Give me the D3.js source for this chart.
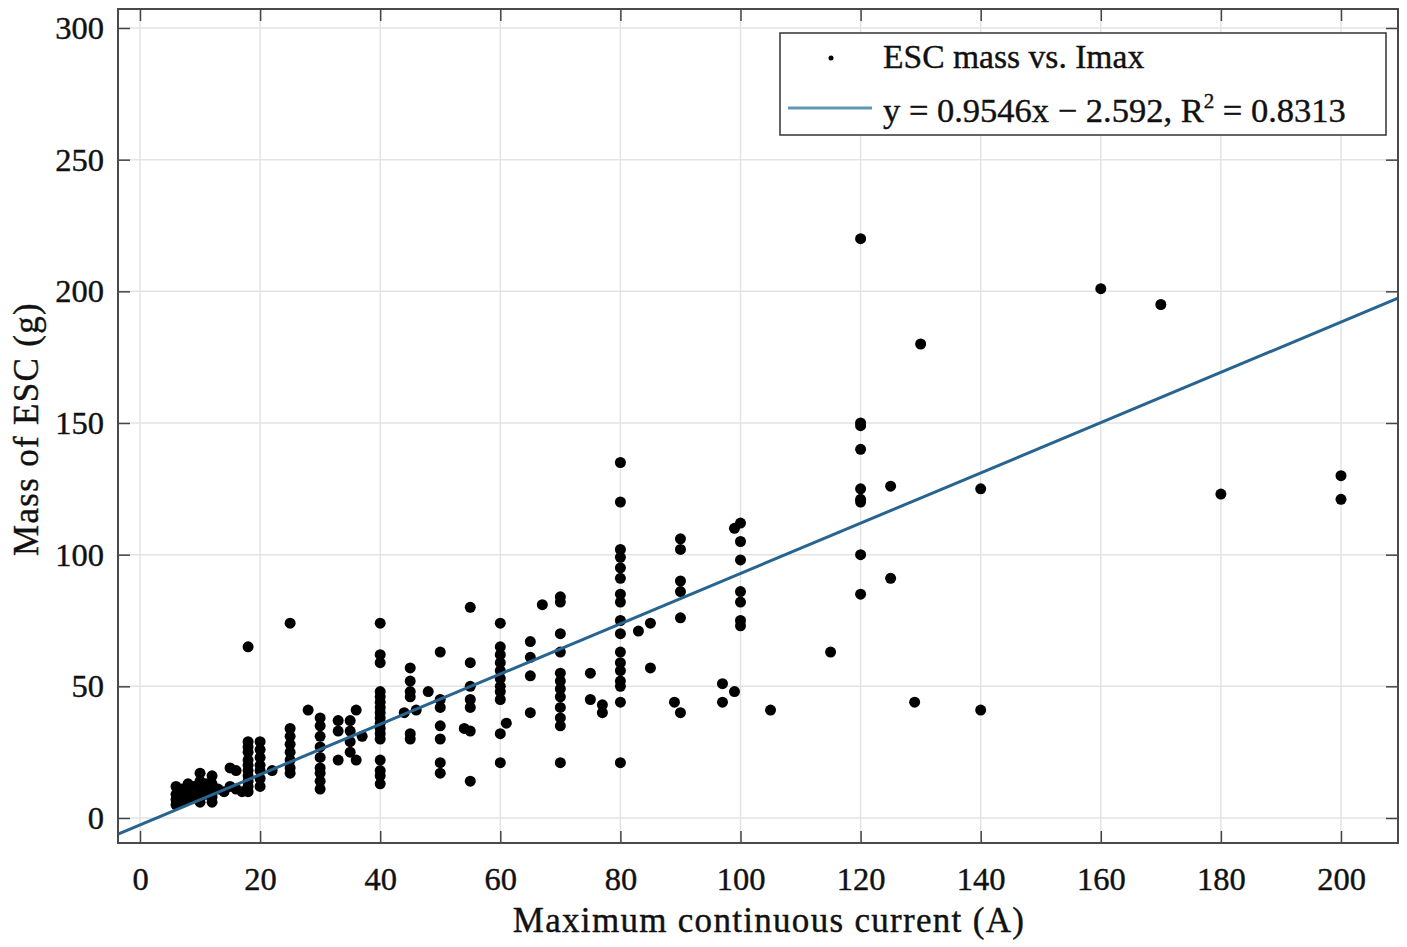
<!DOCTYPE html>
<html>
<head>
<meta charset="utf-8">
<script src="https://cdn.jsdelivr.net/npm/d3@7"></script>
<style>
  html, body { margin: 0; padding: 0; background: #fff; }
  svg { display: block; }
  text { font-family: "Liberation Serif", "Times New Roman", serif; fill: #111; }
</style>
</head>
<body>
<svg id="chart" width="1407" height="947"></svg>
<script>
// ---------------- DATA ----------------
const xTicks = [0, 20, 40, 60, 80, 100, 120, 140, 160, 180, 200];
const yTicks = [0, 50, 100, 150, 200, 250, 300];
const xTitle = "Maximum continuous current (A)";
const yTitle = "Mass of ESC (g)";
const legendPoints = "ESC mass vs. Imax";
const fitSlope = 0.9546;
const fitIntercept = -2.592;
const fitR2 = "0.8313";

// currents (A) and the ESC masses (g) observed at each current
const currents = [6, 7, 8, 9, 10, 11, 12, 13, 14, 15, 16, 17, 18, 20, 22, 25, 28, 30, 33, 35, 36, 37,
  40, 44, 45, 46, 48, 50, 54, 55, 60, 61, 65, 67, 70, 75, 77, 80, 83, 85, 89, 90, 97, 99, 100,
  105, 115, 120, 125, 129, 130, 140, 160, 170, 180, 200];
const massesAtCurrent = [
  [5, 7, 9, 12],
  [6, 8, 11],
  [7, 9, 10, 13],
  [8, 12],
  [6, 8, 10, 12, 14, 17],
  [9, 13],
  [6, 8, 10, 13, 16],
  [11],
  [10],
  [12, 19],
  [11, 18],
  [10],
  [10, 12, 14, 16, 18, 20, 22, 25, 27, 29, 65],
  [12, 15, 18, 20, 23, 26, 29],
  [18],
  [17, 19, 22, 25, 28, 31, 34, 74],
  [41],
  [11, 14, 17, 19, 23, 27, 31, 35, 38],
  [22, 33, 37],
  [25, 29, 33, 37],
  [22, 41],
  [31],
  [13, 16, 18, 22, 30, 32, 34, 36, 38, 40, 42, 44, 46, 48, 59, 62, 74],
  [40],
  [30, 32, 46, 48, 52, 57],
  [41],
  [48],
  [17, 21, 30, 35, 42, 45, 63],
  [34],
  [14, 33, 42, 45, 50, 59, 80],
  [21, 32, 45, 48, 50, 53, 56, 59, 62, 65, 74],
  [36],
  [40, 54, 61, 67],
  [81],
  [21, 35, 38, 42, 46, 49, 52, 55, 63, 70, 82, 84],
  [45, 55],
  [40, 43],
  [21, 44, 50, 52, 56, 59, 63, 70, 75, 82, 85, 91, 95, 99, 102, 120, 135],
  [71],
  [57, 74],
  [44],
  [40, 76, 86, 90, 102, 106],
  [44, 51],
  [48, 110],
  [73, 75, 82, 86, 98, 105, 112],
  [41],
  [63],
  [85, 100, 120, 121, 125, 140, 149, 150, 220],
  [91, 126],
  [44],
  [180],
  [41, 125],
  [201],
  [195],
  [123],
  [121, 130]
];

// ---------------- LAYOUT ----------------
const svg = d3.select("#chart");
const plot = { left: 118, top: 9, right: 1398, bottom: 843 };
const W = plot.right - plot.left, H = plot.bottom - plot.top;

const x = d3.scaleLinear().domain([0, 200]).range([22, 1223]);
const y = d3.scaleLinear().domain([0, 300]).range([809, 19]);

const g = svg.append("g").attr("transform", `translate(${plot.left},${plot.top})`);

g.append("rect").attr("width", W).attr("height", H).attr("fill", "#fff");

svg.append("defs").append("clipPath").attr("id", "clip")
  .append("rect").attr("width", W).attr("height", H);

// grid
g.append("g").selectAll("line").data(xTicks).join("line")
  .attr("x1", d => x(d)).attr("x2", d => x(d)).attr("y1", 0).attr("y2", H)
  .attr("stroke", "#e3e3e3").attr("stroke-width", 1.5);
g.append("g").selectAll("line").data(yTicks).join("line")
  .attr("y1", d => y(d)).attr("y2", d => y(d)).attr("x1", 0).attr("x2", W)
  .attr("stroke", "#e3e3e3").attr("stroke-width", 1.5);

// points
const points = [];
currents.forEach((c, i) => massesAtCurrent[i].forEach(m => points.push([c, m])));

const data = g.append("g").attr("clip-path", "url(#clip)");
data.selectAll("circle").data(points).join("circle")
  .attr("cx", d => x(d[0])).attr("cy", d => y(d[1])).attr("r", 5.5)
  .attr("fill", "#000");

// fit line
const x0 = x.invert(0), x1 = x.invert(W);
data.append("line")
  .attr("x1", x(x0)).attr("y1", y(fitSlope * x0 + fitIntercept))
  .attr("x2", x(x1)).attr("y2", y(fitSlope * x1 + fitIntercept))
  .attr("stroke", "#276590").attr("stroke-width", 3);

// axes (ticks inside, box on)
const tickFont = 32.5;
const axB = g.append("g").attr("transform", `translate(0,${H})`)
  .call(d3.axisBottom(x).tickValues(xTicks).tickSize(-12).tickPadding(24).tickFormat(d3.format("d")));
const axT = g.append("g")
  .call(d3.axisTop(x).tickValues(xTicks).tickSize(-12).tickFormat(""));
const axL = g.append("g")
  .call(d3.axisLeft(y).tickValues(yTicks).tickSize(-12).tickPadding(14).tickFormat(d3.format("d")));
const axR = g.append("g").attr("transform", `translate(${W},0)`)
  .call(d3.axisRight(y).tickValues(yTicks).tickSize(-12).tickFormat(""));
[axB, axT, axL, axR].forEach(a => {
  a.select(".domain").remove();
  a.selectAll(".tick line").attr("stroke", "#444").attr("stroke-width", 1.5);
  a.selectAll("text").attr("font-size", tickFont)
    .attr("font-family", "Liberation Serif, serif").attr("fill", "#111")
    .attr("stroke", "#111").attr("stroke-width", 0.4);
});

// frame
g.append("rect").attr("width", W).attr("height", H)
  .attr("fill", "none").attr("stroke", "#4a4a4a").attr("stroke-width", 2);

// axis titles
svg.append("text").attr("x", 769).attr("y", 932).attr("text-anchor", "middle")
  .attr("font-size", 35).attr("letter-spacing", 1.3)
  .attr("stroke", "#111").attr("stroke-width", 0.4).text(xTitle);
svg.append("text").attr("transform", "translate(38,429) rotate(-90)")
  .attr("text-anchor", "middle").attr("font-size", 35).attr("letter-spacing", 1.3)
  .attr("stroke", "#111").attr("stroke-width", 0.4).text(yTitle);

// legend
const lg = svg.append("g");
lg.append("rect").attr("x", 780).attr("y", 33).attr("width", 606).attr("height", 102)
  .attr("fill", "#fff").attr("stroke", "#333").attr("stroke-width", 1.5);
lg.append("circle").attr("cx", 831).attr("cy", 58).attr("r", 2.5).attr("fill", "#000");
lg.append("text").attr("x", 883).attr("y", 68).attr("font-size", 33.6)
  .attr("stroke", "#111").attr("stroke-width", 0.4).text(legendPoints);
lg.append("line").attr("x1", 788).attr("x2", 872).attr("y1", 108).attr("y2", 108)
  .attr("stroke", "#5e9ab4").attr("stroke-width", 3);
const t2 = lg.append("text").attr("x", 883).attr("y", 122).attr("font-size", 34.5)
  .attr("stroke", "#111").attr("stroke-width", 0.4);
t2.append("tspan").text(`y = ${fitSlope}x \u2212 ${Math.abs(fitIntercept)},  R`);
t2.append("tspan").attr("font-size", 21).attr("dy", -14).text("2");
t2.append("tspan").attr("dy", 14).text(` = ${fitR2}`);
</script>
</body>
</html>
